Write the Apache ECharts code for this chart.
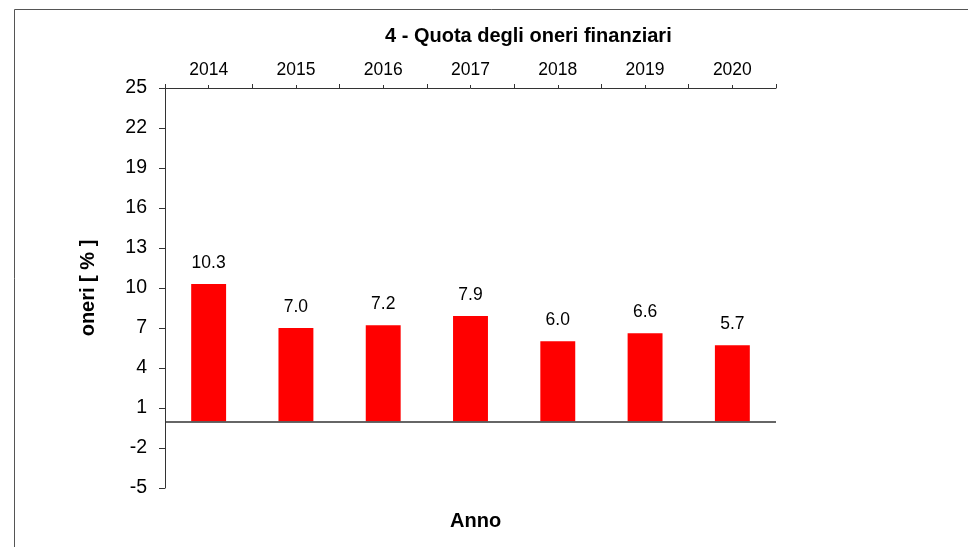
<!DOCTYPE html>
<html>
<head>
<meta charset="utf-8">
<script src="https://cdn.jsdelivr.net/npm/echarts@6/dist/echarts.min.js"></script>
<style>
  html, body { margin: 0; padding: 0; background: #fff; }
  #chart { width: 968px; height: 547px; }
</style>
</head>
<body>
<div id="chart"></div>
<script>
// Years shown along the top axis
const years = ['2014', '2015', '2016', '2017', '2018', '2019', '2020'];
// Share of financial charges, percent
const oneri = [10.3, 7.0, 7.2, 7.9, 6.0, 6.6, 5.7];

const FONT = '"Liberation Sans", Arial, sans-serif';

const chart = echarts.init(document.getElementById('chart'));
chart.setOption({
  animation: false,
  backgroundColor: '#fff',
  graphic: [
    {
      type: 'rect',
      shape: { x: 14.5, y: 9.5, width: 1000, height: 600 },
      style: { fill: 'none', stroke: '#555', lineWidth: 1 },
      silent: true
    },
    {
      type: 'text',
      left: 385, top: 26,
      style: {
        text: '4 - Quota degli oneri finanziari',
        font: 'bold 20px ' + FONT,
        fill: '#000'
      }
    },
    {
      type: 'text',
      left: 450, top: 511,
      style: { text: 'Anno', font: 'bold 20px ' + FONT, fill: '#000' }
    }
  ],
  grid: { left: 165, right: 192, top: 88, bottom: 59 },
  xAxis: [
    {
      type: 'category',
      position: 'top',
      data: years,
      axisLine: { show: true, onZero: false, lineStyle: { color: '#333', width: 1 } },
      axisTick: { show: true, alignWithLabel: true, length: 3, lineStyle: { color: '#333' } },
      axisLabel: { color: '#000', fontSize: 17.5, fontFamily: FONT, margin: 9 },
      splitLine: { show: false }
    },
    {
      type: 'category',
      position: 'top',
      data: years,
      axisLine: { show: false, onZero: false },
      axisTick: { show: true, alignWithLabel: false, length: 4, lineStyle: { color: '#333' } },
      axisLabel: { show: false },
      splitLine: { show: false }
    }
  ],
  yAxis: {
    type: 'value',
    min: -5, max: 25, interval: 3,
    name: 'oneri [ % ]',
    nameLocation: 'middle',
    nameGap: 67,
    nameRotate: 90,
    nameTextStyle: { color: '#000', fontSize: 20, fontWeight: 'bold', fontFamily: FONT },
    axisLine: { show: true, onZero: false, lineStyle: { color: '#333', width: 1 } },
    axisTick: { show: true, length: 6, lineStyle: { color: '#333' } },
    axisLabel: { color: '#000', fontSize: 19.5, fontFamily: FONT, margin: 18 },
    splitLine: { show: false }
  },
  series: [
    {
      type: 'bar',
      data: oneri,
      barWidth: '40%',
      itemStyle: { color: '#ff0000' },
      label: {
        show: true,
        position: 'top',
        distance: 12,
        color: '#000',
        fontSize: 17.5,
        fontFamily: FONT,
        formatter: p => p.value.toFixed(1)
      },
      markLine: {
        silent: true,
        symbol: 'none',
        label: { show: false },
        lineStyle: { color: '#333', width: 1.5, type: 'solid' },
        data: [{ yAxis: 0 }]
      }
    }
  ]
});
</script>
</body>
</html>
